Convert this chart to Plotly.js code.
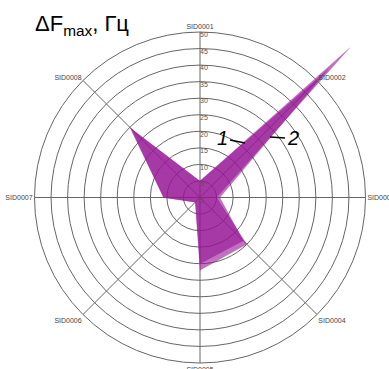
<!DOCTYPE html>
<html><head><meta charset="utf-8">
<script src="https://cdn.plot.ly/plotly-3.0.1.min.js"></script>
<style>html,body{margin:0;padding:0;background:#fff}#chart{width:389px;height:369px}</style>
</head><body><div id="chart"></div>
<script>
const categories = ['SID0001','SID0002','SID0003','SID0004','SID0005','SID0006','SID0007','SID0008'];
const series1 = [5, 55, 6, 18.5, 20, 2, 11, 29.5];
const series2 = [5, 64, 5, 20, 22, 2, 11, 30];
const radialTicks = [0,5,10,15,20,25,30,35,40,45,50];

const fillColor = 'rgba(150,20,150,0.6)';
const traces = [
  {type:'scatterpolar', r:series1, theta:categories, fill:'toself', mode:'lines',
   line:{color:'rgba(150,20,150,0.3)', width:0.5}, fillcolor:fillColor, name:'1'},
  {type:'scatterpolar', r:series2, theta:categories, fill:'toself', mode:'lines',
   line:{color:'rgba(150,20,150,0.3)', width:0.5}, fillcolor:fillColor, name:'2'},
  {type:'scatterpolar', r:radialTicks, theta:radialTicks.map(()=>categories[0]), mode:'text',
   text:radialTicks.map(String), textposition:'bottom right', cliponaxis:false,
   textfont:{size:7,color:'#555',family:'Liberation Sans'}, hoverinfo:'skip'}
];
const cx=200, cy=197.5, R=165.5, W=389, H=369;
const layout = {
  width:W, height:H, margin:{l:0,r:0,t:0,b:0}, showlegend:false,
  paper_bgcolor:'#fff',
  polar:{
    domain:{x:[(cx-R)/W,(cx+R)/W], y:[(H-cy-R)/H,(H-cy+R)/H]},
    bgcolor:'rgba(0,0,0,0)',
    radialaxis:{range:[0,50], tickvals:radialTicks, angle:90, showticklabels:false,
      showline:false, gridcolor:'#666', gridwidth:1, ticks:''},
    angularaxis:{categoryarray:categories, direction:'clockwise', rotation:90, showline:true, linecolor:'#666', linewidth:1,
      gridcolor:'#666', ticks:'', tickfont:{size:7,color:'#444',family:'Liberation Sans'}}
  },
  annotations:[
    {xref:'paper', yref:'paper', x:33/W, y:1-9/H, xanchor:'left', yanchor:'top', showarrow:false,
     text:'ΔF<sub>max</sub>, Гц', font:{size:22, color:'#000', family:'Liberation Sans'}},
    {xref:'paper', yref:'paper', x:222/W, y:1-138/H, xanchor:'center', yanchor:'middle', showarrow:false,
     text:'<i>1</i>', font:{size:20,color:'#000',family:'Liberation Sans'}},
    {xref:'paper', yref:'paper', x:293/W, y:1-138/H, xanchor:'center', yanchor:'middle', showarrow:false,
     text:'<i>2</i>', font:{size:20,color:'#000',family:'Liberation Sans'}}
  ],
  shapes:[
    {type:'line', xref:'paper', yref:'paper', x0:230/W, y0:1-140/H, x1:245/W, y1:1-143/H, line:{color:'#000', width:1.3}},
    {type:'line', xref:'paper', yref:'paper', x0:270/W, y0:1-137/H, x1:285/W, y1:1-138/H, line:{color:'#000', width:1.3}}
  ]
};
Plotly.newPlot('chart', traces, layout, {staticPlot:true, displayModeBar:false}).then(function(gd){
  // let the outer peak extend past the 50 ring, as in the reference
  gd.querySelectorAll('.polarlayer .frontplot, .polarlayer .frontplot [clip-path]').forEach(function(el){
    el.removeAttribute('clip-path');
  });
});
</script></body></html>
